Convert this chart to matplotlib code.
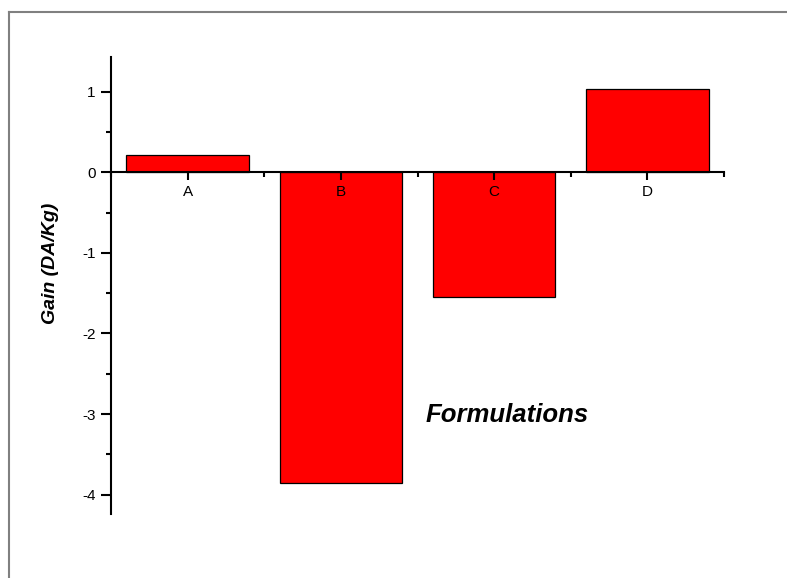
import matplotlib.pyplot as plt
from matplotlib.lines import Line2D
from matplotlib.ticker import MultipleLocator

plt.rcParams['font.family'] = ['Liberation Sans', 'DejaVu Sans']
plt.rcParams['axes.unicode_minus'] = False

categories = ["A", "B", "C", "D"]
gain = [0.21, -3.85, -1.55, 1.03]

fig = plt.figure(figsize=(7.87, 5.78), dpi=100)
ax = fig.add_axes([0.141, 0.1107, 0.779, 0.7907])

pos = list(range(1, len(categories) + 1))
ax.bar(pos, gain, width=0.8, color="#ff0000", edgecolor="black", linewidth=0.9, zorder=1)

ax.set_xlim(0.5, 4.5)
ax.set_ylim(-4.24, 1.43)

ax.spines["top"].set_visible(False)
ax.spines["right"].set_visible(False)
ax.spines["bottom"].set_position(("data", 0))
ax.spines["left"].set_linewidth(1.5)
ax.spines["bottom"].set_linewidth(1.5)
ax.spines["bottom"].set_zorder(3)

ax.set_xticks(pos)
ax.set_xticklabels(categories)
ax.xaxis.set_minor_locator(MultipleLocator(1, offset=0.5))
ax.yaxis.set_major_locator(MultipleLocator(1))
ax.yaxis.set_minor_locator(MultipleLocator(0.5))

ax.tick_params(axis="both", which="major", direction="out", width=1.5, labelsize=11)
ax.tick_params(axis="y", which="major", length=7, pad=4)
ax.tick_params(axis="x", which="major", length=6, pad=3)
ax.tick_params(axis="both", which="minor", direction="out", width=1.5, length=3.5)

ax.set_ylabel("Gain (DA/Kg)", fontsize=14, fontweight="bold", fontstyle="italic",
              family=["Liberation Sans Narrow", "Liberation Sans", "DejaVu Sans"])
ax.yaxis.set_label_coords(-0.085, 0.549)

fig.text(0.644, 0.282, "Formulations", fontsize=18.5, fontweight="bold",
         fontstyle="italic", ha="center", va="center")

# page frame
fig.add_artist(Line2D([9 / 787, 1.0], [1 - 12 / 578, 1 - 12 / 578],
                      transform=fig.transFigure, color="#808080", lw=1.5))
fig.add_artist(Line2D([9 / 787, 9 / 787], [1 - 12 / 578, 0.0],
                      transform=fig.transFigure, color="#808080", lw=1.5))

fig.savefig("out.png", dpi=100)
